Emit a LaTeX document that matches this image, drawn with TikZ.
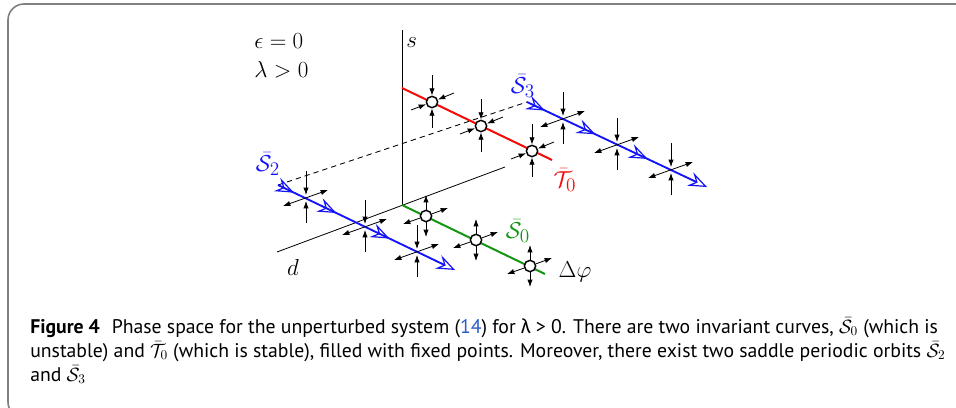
\documentclass[tikz,border=0pt]{standalone}
\usepackage{fontspec}
\setsansfont{PT Sans}
\newfontfamily\grkfont{Fira Sans}
\usetikzlibrary{arrows.meta,decorations.markings,calc}

\definecolor{orbitblue}{RGB}{20,20,250}
\definecolor{stablered}{RGB}{245,10,10}
\definecolor{unstgreen}{RGB}{20,150,20}
\definecolor{linkblue}{RGB}{40,90,200}

\tikzset{
  chev/.tip={Stealth[open,length=14pt,width=11pt,inset=5pt,line width=0.9pt]},
  axis/.style={line width=0.6pt},
  flow/.style={line width=0.6pt,-{Latex[length=5.5pt,width=4pt]}},
  twoway/.style={line width=0.6pt,{Latex[length=5.5pt,width=4pt]}-{Latex[length=5.5pt,width=4pt]}},
  fixpt/.style={circle,draw,fill=white,line width=1.1pt,inner sep=0pt,minimum size=8.5pt},
  lbl/.style={inner sep=0pt,font=\fontsize{19}{23}\selectfont},
  caption/.style={inner sep=0pt,anchor=base west,font=\sffamily\fontsize{14.8}{18}\selectfont},
}

\begin{document}
\begin{tikzpicture}[x=0.75pt,y=-0.75pt]
  \useasboundingbox (0,0) rectangle (956,407);
  \clip (0,0) rectangle (956,407);
  % frame
  \draw[black!50,line width=1.2pt,rounded corners=12] (990,4) -- (8,4) -- (8,418) -- (40,418);

  % axes
  \coordinate (O) at (402,205);
  \coordinate (stop) at (402,30);
  \coordinate (dfront) at (277,252);
  \coordinate (dback) at (505,167);
  \coordinate (phiend) at (545,274);
  \draw[axis] (O) -- (stop);
  \draw[axis] (dfront) -- (dback);

  % dashed link between the saddle orbits
  \coordinate (s2start) at (278,185);
  \coordinate (s2end) at (455,270);
  \coordinate (s3start) at (527,102);
  \coordinate (s3end) at (707,187);
  \draw[axis,dashed,dash pattern=on 4pt off 3pt] (s2start) -- (s3start);

  % invariant curves
  \coordinate (tstart) at (402,88);
  \coordinate (tend) at (552,160);
  \draw[stablered,line width=1.5pt] (tstart) -- (tend);
  \draw[unstgreen,line width=1.5pt] (O) -- (phiend);

  % saddle periodic orbits
  \draw[orbitblue,line width=1.4pt,-{chev},postaction=decorate,
    decoration={markings,
      mark=at position 0.09 with {\arrow{chev}},
      mark=at position 0.33 with {\arrow{chev}},
      mark=at position 0.63 with {\arrow{chev}}}] (s2start) -- (s2end);
  \draw[orbitblue,line width=1.4pt,-{chev},postaction=decorate,
    decoration={markings,
      mark=at position 0.10 with {\arrow{chev}},
      mark=at position 0.38 with {\arrow{chev}},
      mark=at position 0.67 with {\arrow{chev}}}] (s3start) -- (s3end);

  % saddle points
  \foreach \name/\px/\py in {b1/306/198,b2/365/227,b3/417/252,
                             b4/563/119,b5/617/145,b6/671/170}{
    \coordinate (\name) at (\px,\py);
    \draw[flow] ($(\name)+(0,-27)$) -- ($(\name)+(0,-3)$);
    \draw[flow] ($(\name)+(0,25)$) -- ($(\name)+(0,3)$);
    \draw[twoway] ($(\name)+(-23,8)$) -- ($(\name)+(22,-8)$);
  }

  % stable fixed points on T0
  \foreach \name/\px/\py in {r1/432/102,r2/481/126,r3/532/151}{
    \node[fixpt] (\name) at (\px,\py) {};
    \draw[flow] ($(\name)+(0,-27)$) -- (\name);
    \draw[flow] ($(\name)+(0,26)$) -- (\name);
    \draw[flow] ($(\name)+(-21,8)$) -- (\name);
    \draw[flow] ($(\name)+(22,-9)$) -- (\name);
  }

  % unstable fixed points on S0
  \foreach \name/\px/\py in {g1/426/216,g2/476/240,g3/530/266}{
    \node[fixpt] (\name) at (\px,\py) {};
    \draw[flow] (\name) -- ($(\name)+(0,-21)$);
    \draw[flow] (\name) -- ($(\name)+(0,21)$);
    \draw[flow] (\name) -- ($(\name)+(-23,8)$);
    \draw[flow] (\name) -- ($(\name)+(22,-8)$);
  }

  % labels
  \node[lbl,anchor=base west] (eps) at (254,48) {$\epsilon=0$};
  \node[lbl,anchor=base west] (lam) at (254,77) {$\lambda>0$};
  \node[lbl,anchor=base west] (slbl) at (406,47) {$s$};
  \node[lbl] (dlbl) at (293,267) {$d$};
  \node[lbl] (philbl) at (575,272) {$\Delta\varphi$};
  \node[lbl,text=orbitblue] (s2lbl) at (268,164) {$\bar{\mathcal{S}}_2$};
  \node[lbl,text=orbitblue] (s3lbl) at (523,86) {$\bar{\mathcal{S}}_3$};
  \node[lbl,text=stablered] (t0lbl) at (565,180) {$\bar{\mathcal{T}}_0$};
  \node[lbl,text=unstgreen] (s0lbl) at (518,231) {$\bar{\mathcal{S}}_0$};

  % caption
  \node[caption] (cap1) at (30,333) {\textbf{Figure 4}\hspace{0.6em}Phase space for the unperturbed system (\textcolor{linkblue}{14}) for {\grkfont λ} > 0. There are two invariant curves, $\bar{\mathcal{S}}_0$ (which is};
  \node[caption] (cap2) at (30,357) {unstable) and $\bar{\mathcal{T}}_0$ (which is stable), filled with fixed points. Moreover, there exist two saddle periodic orbits $\bar{\mathcal{S}}_2$};
  \node[caption] (cap3) at (30,381) {and $\bar{\mathcal{S}}_3$};
\end{tikzpicture}
\end{document}
